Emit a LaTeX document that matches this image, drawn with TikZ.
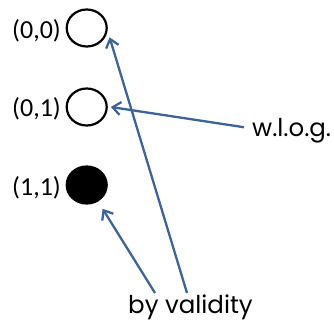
\documentclass[tikz,border=0pt]{standalone}
\usepackage{fontspec}
\setmainfont{Carlito}
\newfontfamily\notefont{Poppins}
\usetikzlibrary{arrows.meta,shapes.geometric}
\definecolor{arrblue}{RGB}{62,100,150}
\tikzset{
  state/.style={ellipse, draw=black, line width=2.2pt, minimum width=40pt, minimum height=37pt, inner sep=0pt},
  filled/.style={state, fill=black},
  lbl/.style={font=\fontsize{26}{28}\selectfont, inner sep=0pt, anchor=center},
  note/.style={font=\notefont\fontsize{24.5}{27}\selectfont, inner sep=0pt, anchor=base west},
  arr/.style={draw=arrblue, line width=2.3pt, -{Straight Barb[length=8pt,width=13pt,line width=2.3pt]}}
}
\begin{document}
\begin{tikzpicture}[x=1pt,y=-1pt]
\useasboundingbox (0,0) rectangle (334,323);
\node[state] (c00) at (86.7,28) {};
\node[state] (c01) at (86.7,107) {};
\node[filled] (c11) at (86.7,185) {};
\node[lbl] (l00) at (36.5,30.5) {(0,0)};
\node[lbl] (l01) at (36.5,109) {(0,1)};
\node[lbl] (l11) at (36.5,187.5) {(1,1)};
\node[note] (wlog) at (252,137) {w.l.o.g.};
\node[note] (byv) at (128,313) {by validity};
\coordinate (s1) at (155,293);
\coordinate (s2) at (187,293);
\draw[arr] (wlog.west) ++(-8pt,4pt) -- ([xshift=3pt]c01.east);
\draw[arr] (s1) -- ([xshift=5pt,yshift=-7pt]c11.-57);
\draw[arr] (s2) -- ([xshift=3.5pt,yshift=-1.5pt]c00.-22);
\end{tikzpicture}
\end{document}
